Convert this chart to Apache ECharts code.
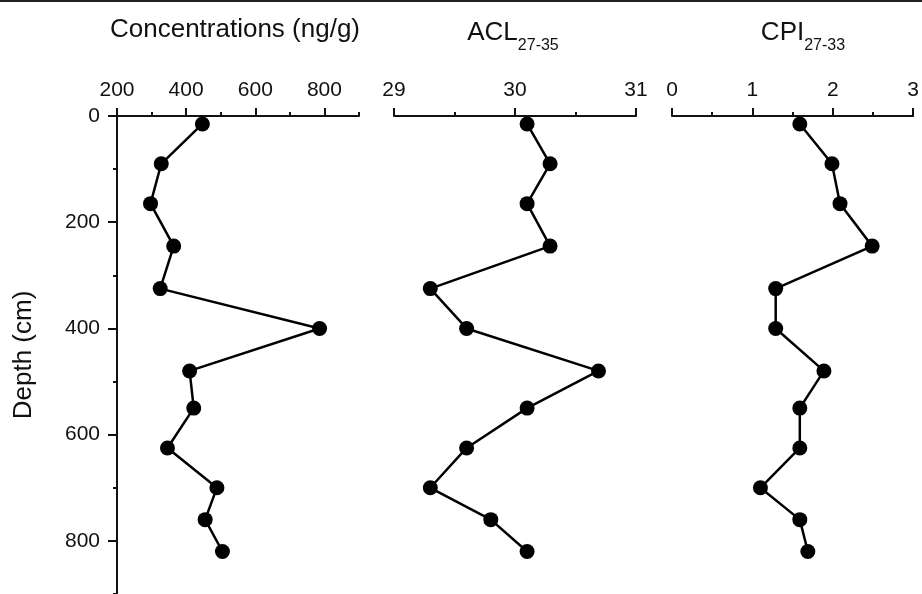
<!DOCTYPE html>
<html>
<head>
<meta charset="utf-8">
<style>
  html, body { margin: 0; padding: 0; background: #fff; }
  #main { width: 922px; height: 594px; }
</style>
<script src="https://cdn.jsdelivr.net/npm/echarts@6.0.0/dist/echarts.min.js"></script>
</head>
<body>
<div id="main"></div>
<script>
// sample depths, cm (shared by all three panels)
const depth = [15, 90, 165, 245, 325, 400, 480, 550, 625, 700, 760, 820];
// concentrations, ng/g
const concentration = [447, 328, 297, 364, 325, 786, 410, 422, 346, 489, 455, 505];
// ACL 27-35
const acl = [30.1, 30.29, 30.1, 30.29, 29.3, 29.6, 30.69, 30.1, 29.6, 29.3, 29.8, 30.1];
// CPI 27-33
const cpi = [1.59, 1.99, 2.09, 2.49, 1.29, 1.29, 1.89, 1.59, 1.59, 1.1, 1.59, 1.69];

// major tick values of the concentration axis (900 is only a minor tick)
const concMajorTicks = [200, 400, 600, 800];

const font = 'Liberation Sans';
const ink = '#111';

// pairs [value, depth] for one series
let pairs = values => values.map((v, i) => [v, depth[i]]);

let container = document.getElementById('main');
let chart = echarts.init(container);

const lineStyle = {color: ink, width: 2};

// top value axis of a panel
function topAxis(gridIndex, min, max, interval, extra) {
    return Object.assign({
        type: 'value',
        gridIndex: gridIndex,
        position: 'top',
        min: min,
        max: max,
        interval: interval,
        splitLine: {show: false},
        axisLine: {show: true, onZero: false, lineStyle: lineStyle},
        axisTick: {show: true, inside: false, length: 8, lineStyle: lineStyle},
        axisLabel: {show: true, margin: 15, color: ink, fontSize: 21, fontFamily: font},
        minorTick: {show: true, splitNumber: 2, length: 4, lineStyle: lineStyle}
    }, extra);
}

function hiddenDepthAxis(gridIndex) {
    return {type: 'value', gridIndex: gridIndex, min: 0, max: 900, inverse: true, show: false};
}

// panel titles, with subscripts
const titleRich = {
    a: {fontSize: 26, lineHeight: 42, fontFamily: font, fill: ink},
    b: {fontSize: 16, lineHeight: 16, fontFamily: font, fill: ink, verticalAlign: 'bottom'}
};

const option = {
    animation: false,
    backgroundColor: '#fff',
    grid: [
        {left: 117, top: 116, width: 242, height: 483},
        {left: 394, top: 116, width: 242, height: 483},
        {left: 672, top: 116, width: 242, height: 483},
        // overlay of the first panel, carries its minor ticks
        {left: 117, top: 116, width: 242, height: 483}
    ],
    xAxis: [
        topAxis(0, 200, 900, 200, {
            minorTick: {show: false},
            axisTick: {show: true, inside: false, length: 8, lineStyle: lineStyle, customValues: concMajorTicks},
            axisLabel: {show: true, margin: 15, color: ink, fontSize: 21, fontFamily: font, showMaxLabel: false}
        }),
        topAxis(1, 29, 31, 1),
        topAxis(2, 0, 3, 1),
        topAxis(3, 200, 900, 100, {
            minorTick: {show: false},
            axisLine: {show: false},
            axisTick: {show: true, inside: false, length: 4, lineStyle: lineStyle},
            axisLabel: {show: false}
        })
    ],
    yAxis: [
        {
            type: 'value',
            gridIndex: 0,
            position: 'left',
            min: 0,
            max: 900,
            interval: 200,
            inverse: true,
            name: 'Depth (cm)',
            nameLocation: 'middle',
            nameRotate: 90,
            nameGap: 80,
            nameTextStyle: {fontSize: 26, fontFamily: font, color: ink},
            splitLine: {show: false},
            axisLine: {show: true, onZero: false, lineStyle: lineStyle},
            axisTick: {show: true, inside: false, length: 9, lineStyle: lineStyle},
            axisLabel: {margin: 17, color: ink, fontSize: 21, fontFamily: font, showMaxLabel: false}
        },
        hiddenDepthAxis(1),
        hiddenDepthAxis(2),
        {
            type: 'value',
            gridIndex: 3,
            position: 'left',
            min: 0,
            max: 900,
            interval: 100,
            inverse: true,
            splitLine: {show: false},
            axisLine: {show: false},
            axisTick: {show: true, inside: false, length: 4, lineStyle: lineStyle},
            axisLabel: {show: false}
        }
    ],
    graphic: [
        {type: 'rect', shape: {x: 0, y: 0, width: 922, height: 2}, style: {fill: '#222'}},
        {
            type: 'text', x: 235, y: 30,
            style: {text: 'Concentrations (ng/g)', font: '26px "Liberation Sans"', fill: ink, align: 'center', verticalAlign: 'middle'}
        },
        {
            type: 'text', x: 513, y: 33,
            style: {text: '{a|ACL}{b|27-35}', rich: titleRich, fill: ink, align: 'center', verticalAlign: 'middle'}
        },
        {
            type: 'text', x: 803, y: 33,
            style: {text: '{a|CPI}{b|27-33}', rich: titleRich, fill: ink, align: 'center', verticalAlign: 'middle'}
        }
    ],
    series: [
        {name: 'Concentrations', data: pairs(concentration), xAxisIndex: 0, yAxisIndex: 0},
        {name: 'ACL', data: pairs(acl), xAxisIndex: 1, yAxisIndex: 1},
        {name: 'CPI', data: pairs(cpi), xAxisIndex: 2, yAxisIndex: 2}
    ].map(s => Object.assign({
        type: 'line',
        symbol: 'circle',
        symbolSize: 15,
        itemStyle: {color: '#000'},
        lineStyle: {color: '#000', width: 2.5},
        clip: false
    }, s))
};

chart.setOption(option);
</script>
</body>
</html>
